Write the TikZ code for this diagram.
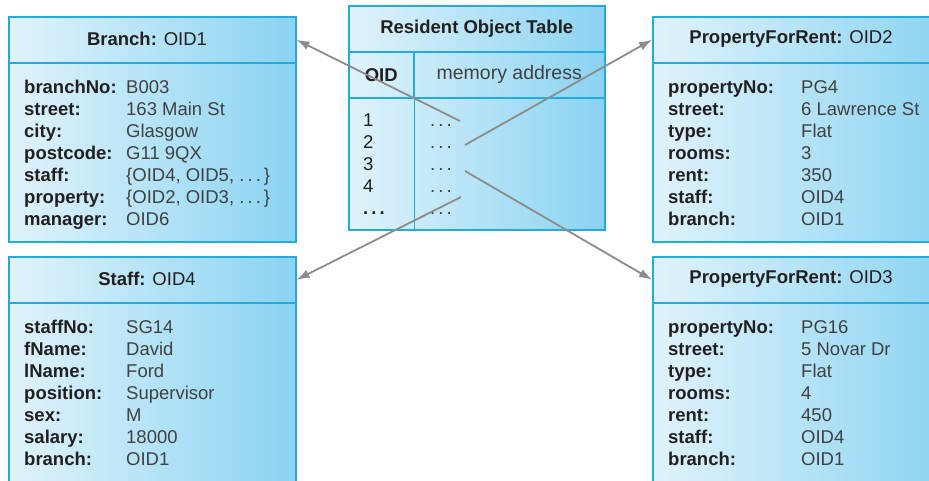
\documentclass[tikz,border=0pt]{standalone}
\usepackage{fontspec}
\setmainfont{Liberation Sans}
\usepackage{array}
\usepackage{xcolor}
\usetikzlibrary{arrows.meta,positioning}
\definecolor{objLine}{RGB}{35,170,225}
\definecolor{objLight}{RGB}{224,243,251}
\definecolor{objDark}{RGB}{138,211,242}
\definecolor{objText}{RGB}{35,31,32}
\definecolor{objValue}{RGB}{65,65,65}
\definecolor{ptrGray}{RGB}{140,140,140}
\newcommand{\objfont}{\fontsize{18.5}{22}\selectfont}

\begin{document}
\begin{tikzpicture}[
  x=1pt, y=-1pt,
  objbox/.style={draw=objLine, line width=1.5pt, left color=objLight, right color=objDark, inner sep=0pt, anchor=north west},
  headbox/.style={draw=objLine, line width=1.5pt, inner sep=0pt, anchor=north west, minimum height=46pt, font=\objfont, text=objText},
  title/.style={font=\objfont, text=objText, inner sep=0pt},
  attrs/.style={anchor=north west, inner sep=0pt, font=\objfont, text=objText},
  ptr/.style={-{Latex[length=13pt,width=9pt]}, line width=1.8pt, draw=ptrGray}
]
\useasboundingbox (0,0) rectangle (929,480);
\clip (0,0) rectangle (929,480);

% object boxes
\node[objbox, minimum width=287pt, minimum height=225pt] (branch) at (8,16) {};
\node[headbox, minimum width=287pt] (branchHead) at (8,16) {};
\node[title] (branchTitle) at (147,39) {\textbf{Branch:} OID1};
\node[attrs] (branchBody) at (24,78) {%
  \begin{tabular}{@{}>{\bfseries}p{102pt}@{}>{\color{objValue}}l@{}}
  branchNo: & B003\\
  street: & 163 Main St\\
  city: & Glasgow\\
  postcode: & G11 9QX\\
  staff: & \{OID4, OID5, .\,.\,.\,\}\\
  property: & \{OID2, OID3, .\,.\,.\,\}\\
  manager: & OID6\\
  \end{tabular}};

\node[objbox, minimum width=287pt, minimum height=240pt] (staff) at (8,256) {};
\node[headbox, minimum width=287pt] (staffHead) at (8,256) {};
\node[title] (staffTitle) at (147,279) {\textbf{Staff:} OID4};
\node[attrs] (staffBody) at (24,318) {%
  \begin{tabular}{@{}>{\bfseries}p{102pt}@{}>{\color{objValue}}l@{}}
  staffNo: & SG14\\
  fName: & David\\
  lName: & Ford\\
  position: & Supervisor\\
  sex: & M\\
  salary: & 18000\\
  branch: & OID1\\
  \end{tabular}};

\node[objbox, minimum width=300pt, minimum height=225pt] (prop2) at (652,16) {};
\node[headbox, minimum width=300pt] (prop2Head) at (652,16) {};
\node[title] (prop2Title) at (791,39) {\textbf{PropertyForRent:} OID2};
\node[attrs] (prop2Body) at (668,78) {%
  \begin{tabular}{@{}>{\bfseries}p{133pt}@{}>{\color{objValue}}l@{}}
  propertyNo: & PG4\\
  street: & 6 Lawrence St\\
  type: & Flat\\
  rooms: & 3\\
  rent: & 350\\
  staff: & OID4\\
  branch: & OID1\\
  \end{tabular}};

\node[objbox, minimum width=300pt, minimum height=240pt] (prop3) at (652,256) {};
\node[headbox, minimum width=300pt] (prop3Head) at (652,256) {};
\node[title] (prop3Title) at (791,279) {\textbf{PropertyForRent:} OID3};
\node[attrs] (prop3Body) at (668,318) {%
  \begin{tabular}{@{}>{\bfseries}p{133pt}@{}>{\color{objValue}}l@{}}
  propertyNo: & PG16\\
  street: & 5 Novar Dr\\
  type: & Flat\\
  rooms: & 4\\
  rent: & 450\\
  staff: & OID4\\
  branch: & OID1\\
  \end{tabular}};

% resident object table
\node[objbox, minimum width=256pt, minimum height=224pt] (rot) at (348,5) {};
\node[headbox, minimum width=256pt] (rotHead) at (348,5) {\textbf{Resident Object Table}};
\node[headbox, minimum width=65pt] (oidHead) at (348,51) {\textbf{OID}};
\node[headbox, minimum width=191pt, text=objValue, font=\fontsize{19.5}{22}\selectfont] (addrHead) at (413,51) {memory address};
\draw[draw=objLine, line width=1.5pt] (oidHead.south east) -- (rot.south west -| oidHead.south east);
\node[attrs] (rotBody) at (363,111) {%
  \begin{tabular}{@{}p{67pt}@{}>{\color{objValue}}l@{}}
  1 & .\,.\,.\\
  2 & .\,.\,.\\
  3 & .\,.\,.\\
  4 & .\,.\,.\\
  \textbf{.\,.\,.} & .\,.\,.\\
  \end{tabular}};

% pointers
\coordinate (ptr1) at (460,121);
\coordinate (ptr2) at (465,145);
\coordinate (ptr3) at (465,171);
\coordinate (ptr4) at (461,197);
\draw[ptr] (ptr1) -- (branchHead.east);
\draw[ptr] (ptr2) -- (prop2Head.west);
\draw[ptr] (ptr3) -- (prop3Head.west);
\draw[ptr] (ptr4) -- (staffHead.east);
\end{tikzpicture}
\end{document}
